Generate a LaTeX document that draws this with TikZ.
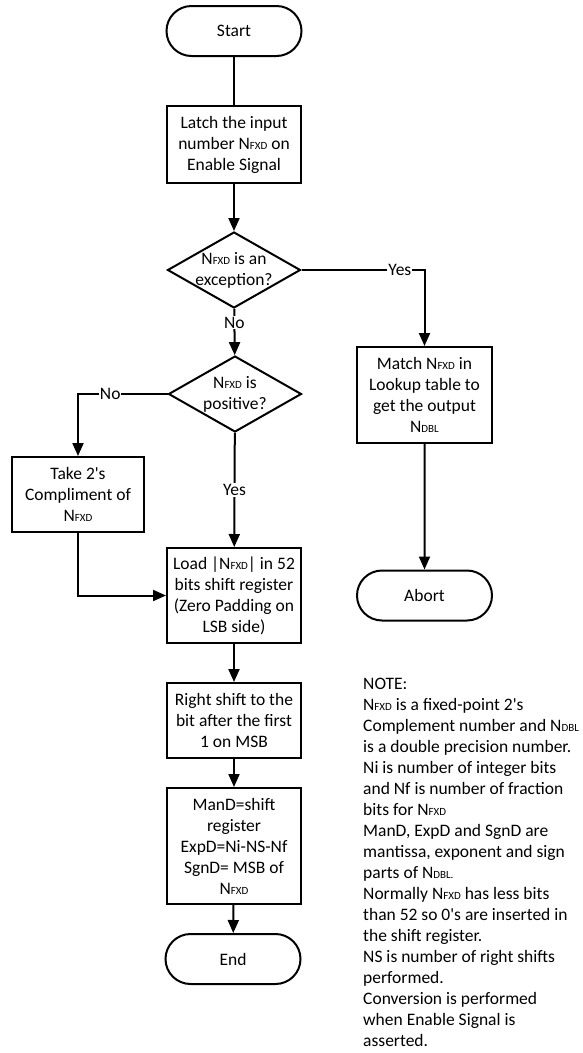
\documentclass[tikz,border=0pt]{standalone}
\usepackage{fontspec}
\setmainfont{Carlito}[Ligatures=TeXOff]
\usetikzlibrary{arrows.meta,shapes.geometric,shapes.misc}
\newcommand{\fx}[1]{{\fontsize{11}{11}\selectfont #1}}
\begin{document}
\begin{tikzpicture}[x=1pt,y=-1pt,
  every node/.style={font=\fontsize{17.5}{21}\selectfont},
  flow/.style={line width=2pt,-{Triangle[length=13pt,width=11pt]}},
  plain/.style={line width=2pt},
  procbox/.style={draw,line width=2pt,rectangle,align=center,inner sep=0pt},
  termbox/.style={draw,line width=2pt,rounded rectangle,minimum width=135pt,minimum height=50pt,inner sep=0pt},
  decbox/.style={draw,line width=2pt,diamond,minimum width=133pt,minimum height=76pt,inner sep=0pt},
  lbl/.style={fill=white,inner sep=1pt}]
\useasboundingbox (0,0) rectangle (583,1053);
\node[termbox] (start) at (234,31) {Start};
\node[procbox,minimum width=134pt,minimum height=77pt] (latch) at (234,144.5) {Latch the input\\number N\fx{FXD} on\\Enable Signal};
\node[decbox,label={[align=center]center:N\fx{FXD} is an\\exception?}] (d1) at (234,270) {};
\node[decbox,label={[align=center]center:N\fx{FXD} is\\positive?}] (d2) at (235,394) {};
\node[procbox,minimum width=135pt,minimum height=96pt] (match) at (424.5,395) {Match N\fx{FXD} in\\Lookup table to\\get the output\\N\fx{DBL}};
\node[termbox] (abort) at (424.5,595.5) {Abort};
\node[procbox,minimum width=132pt,minimum height=75pt] (take) at (78,494.5) {Take 2's\\Compliment of\\N\fx{FXD}};
\node[procbox,minimum width=134pt,minimum height=95pt] (load) at (234,595.5) {Load |N\fx{FXD}| in 52\\bits shift register\\(Zero Padding on\\LSB side)};
\node[procbox,minimum width=134pt,minimum height=75pt] (shift) at (234,720.5) {Right shift to the\\bit after the first\\1 on MSB};
\node[procbox,minimum width=134pt,minimum height=116pt] (mand) at (234,846) {ManD=shift\\register\\ExpD=Ni-NS-Nf\\SgnD= MSB of\\N\fx{FXD}};
\node[termbox] (end) at (233,959) {End};
\node[align=left,anchor=north west,inner sep=0pt] (note) at (363,678) {NOTE:\\
N\fx{FXD} is a fixed-point 2's\\
Complement number and N\fx{DBL}\\
is a double precision number.\\
Ni is number of integer bits\\
and Nf is number of fraction\\
bits for N\fx{FXD}\\
ManD, ExpD and SgnD are\\
mantissa, exponent and sign\\
parts of N\fx{DBL.}\\
Normally N\fx{FXD} has less bits\\
than 52 so 0's are inserted in\\
the shift register.\\
NS is number of right shifts\\
performed.\\
Conversion is performed\\
when Enable Signal is\\
asserted.};
\draw[plain] (start) -- (latch);
\draw[flow] (latch) -- (d1);
\draw[flow] (d1) -- node[lbl,pos=0.3] {No} (d2);
\draw[flow] (d1.east) -- node[lbl,pos=0.8] {Yes} (d1.east -| match.north) -- (match.north);
\draw[flow] (match) -- (abort);
\draw[flow] (d2.west) -- node[lbl,pos=0.64] {No} (d2.west -| take.north) -- (take.north);
\draw[flow] (d2) -- node[lbl,pos=0.5] {Yes} (load);
\draw[flow] (take.south) -- (take.south |- load.west) -- (load.west);
\draw[flow] (load) -- (shift);
\draw[flow] (shift) -- (mand);
\draw[flow] (mand) -- (end);
\end{tikzpicture}
\end{document}
